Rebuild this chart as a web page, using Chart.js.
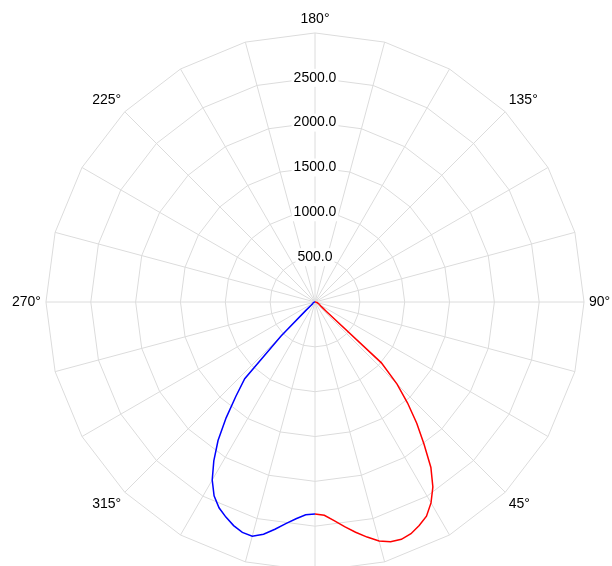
<!DOCTYPE html>
<html>
<head>
<meta charset="utf-8">
<title>Polar intensity</title>
<script src="https://cdn.jsdelivr.net/npm/chart.js@4/dist/chart.umd.min.js"></script>
<style>
  html, body { margin: 0; padding: 0; background: #fff; overflow: hidden; }
  #frame { width: 612px; height: 566px; overflow: hidden; position: relative; }
  /* the original figure is cropped on the right and at the bottom */
  #polar { position: absolute; left: 0; top: -5px; }
</style>
</head>
<body>
<div id="frame"><canvas id="polar" width="615" height="615"></canvas></div>
<script>
// gamma angle in degrees (0 = straight down)
const gammaAngles = [0, 2.5, 5, 7.5, 10, 12.5, 15, 17.5, 20, 22.5, 25, 27.5, 30, 32.5, 35, 37.5,
  40, 42.5, 45, 47.5, 50, 52.5, 55, 57.5, 60, 62.5, 65, 67.5, 70, 72.5, 75, 77.5, 80, 82.5, 85, 87.5, 90];

// red plane, drawn on the right half (cd)
const redPlane = [2364, 2381, 2447, 2527, 2607, 2685, 2760, 2803, 2816, 2796, 2749, 2692, 2587, 2446, 2253, 1996,
  1765, 1528, 1294, 1004, 178, 112, 78, 67, 56, 50, 45, 39, 33, 28, 22, 17, 13, 11, 7, 3, 0];

// blue plane, drawn on the left half (cd)
const bluePlane = [2364, 2375, 2426, 2492, 2573, 2652, 2704, 2694, 2653, 2596, 2532, 2437, 2292, 2100, 1885, 1628,
  1372, 1160, 535, 134, 56, 39, 33, 30, 28, 25, 22, 20, 17, 14, 12, 10, 8, 6, 3, 2, 0];

// spokes every 15 degrees, clockwise from the top
const spokeLabels = ['180°', '', '', '135°', '', '', '90°', '', '', '45°', '', '',
  '0°', '', '', '315°', '', '', '270°', '', '', '225°', '', ''];

const rMax = 3000;
const rStep = 500;

// fine angular slots for the curves (every 2.5 degrees)
const STEP = 2.5;
const slotCount = 360 / STEP;
const fineLabels = [];
for (let i = 0; i < slotCount; i++) {
  const deg = ((180 - i * STEP) % 360 + 360) % 360;
  fineLabels.push(deg % 45 === 0 ? deg + '°' : '');
}

function toSlots(values, slotOf) {
  const slots = new Array(slotCount).fill(null);
  gammaAngles.forEach((g, k) => { slots[slotOf(g)] = values[k]; });
  return slots;
}

const redData = toSlots(redPlane, g => Math.round((180 - g) / STEP));
const blueData = toSlots(bluePlane, g => Math.round((180 + g) / STEP));

const textFont = { family: '"Liberation Sans", Arial, sans-serif', size: 14 };
const tickText = v => (v < rMax ? v.toFixed(1) : '');
const labelGap = -4;

new Chart(document.getElementById('polar'), {
  type: 'radar',
  data: {
    labels: fineLabels,
    datasets: [
      { data: redData, rAxisID: 'rf', borderColor: '#ff0000', borderWidth: 1.5 },
      { data: blueData, rAxisID: 'rf', borderColor: '#0000ff', borderWidth: 1.5 }
    ]
  },
  options: {
    responsive: false,
    animation: false,
    layout: { padding: { left: 9, top: 0, right: 0, bottom: 0 } },
    elements: {
      point: { radius: 0, hoverRadius: 0 },
      line: { fill: false, tension: 0, spanGaps: false }
    },
    plugins: { legend: { display: false }, tooltip: { enabled: false } },
    scales: {
      r: {
        type: 'radialLinear',
        labels: spokeLabels,
        min: 0,
        max: rMax,
        grid: { color: '#dcdcdc', lineWidth: 1 },
        angleLines: { color: '#dcdcdc', lineWidth: 1 },
        ticks: {
          stepSize: rStep,
          color: '#000',
          font: textFont,
          backdropColor: '#fff',
          backdropPadding: 2,
          showLabelBackdrop: c => c.tick.value < rMax,
          callback: tickText
        },
        pointLabels: { color: '#000', font: textFont, padding: labelGap }
      },
      // same geometry, only carries the fine-grained curves
      rf: {
        type: 'radialLinear',
        labels: fineLabels,
        min: 0,
        max: rMax,
        grid: { display: false },
        angleLines: { display: false },
        ticks: {
          stepSize: rStep,
          color: 'transparent',
          font: textFont,
          backdropPadding: 2,
          showLabelBackdrop: false,
          callback: tickText
        },
        pointLabels: { color: 'transparent', font: textFont, padding: labelGap }
      }
    }
  }
});
</script>
</body>
</html>
